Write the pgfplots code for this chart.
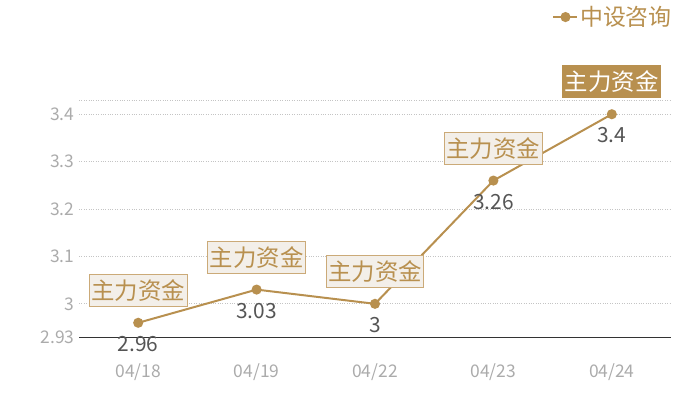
\documentclass[border=0pt]{standalone}
\usepackage{pgfplots}
\pgfplotsset{compat=1.18}
\usepackage{fontspec}
\setmainfont{Noto Sans CJK SC}
\definecolor{gold}{HTML}{B8904F}
\definecolor{boxfill}{HTML}{F3EFE9}
\definecolor{boxline}{HTML}{CBAA78}
\definecolor{ticktxt}{HTML}{ABABAB}
\definecolor{valtxt}{HTML}{555555}
\definecolor{gridc}{HTML}{C4C4C4}
\pgfplotsset{/pgf/number format/assume math mode=true}
\tikzset{
  tag/.style={draw=boxline, fill=boxfill, text=gold, font=\fontsize{23.5}{23.5}\selectfont,
    inner xsep=2bp, inner ysep=5bp, line width=1bp, anchor=south, yshift=16bp},
  tagdark/.style={tag, draw=gold, fill=gold, text=white}
}
\begin{document}
\begin{tikzpicture}[x=1bp,y=1bp]
\useasboundingbox (0,0) rectangle (700,400);
\begin{axis}[
  at={(79bp,63bp)}, anchor=south west,
  scale only axis, width=592bp, height=237bp,
  xmin=-0.5, xmax=4.5, ymin=2.93, ymax=3.43,
  xtick={0,1,2,3,4},
  xticklabels={04/18,04/19,04/22,04/23,04/24},
  ytick={2.93,3,3.1,3.2,3.3,3.4},
  yticklabels={2.93,3,3.1,3.2,3.3,3.4},
  extra y ticks={3.43}, extra y tick labels={},
  extra y tick style={grid=major},
  axis x line*=bottom, axis y line*=left,
  x axis line style={draw=black!80, line width=1bp, -},
  y axis line style={draw=none},
  major tick length=0pt,
  ymajorgrids=true,
  grid style={gridc, dotted, line width=0.8bp},
  ticklabel style={text=ticktxt, font=\fontsize{17.5}{17.5}\selectfont},
  xticklabel style={yshift=-23bp},
  yticklabel style={xshift=-1bp},
  clip=false,
  legend style={draw=none, fill=none, at={(1.01,1.35)}, anchor=east,
    font=\fontsize{23}{23}\selectfont, text=gold, legend cell align=left,
    /tikz/every even column/.append style={column sep=2bp}},
  legend image code/.code={
    \draw[gold, line width=1.2bp] (0bp,0bp) -- (24bp,0bp);
    \fill[gold] (12bp,0bp) circle (4bp);
  },
]
\addplot[gold, line width=2bp, mark=*, mark size=4bp,
  mark options={fill=gold, draw=gold},
  nodes near coords,
  every node near coord/.append style={anchor=north, yshift=-9bp,
    text=valtxt, font=\fontsize{21}{21}\selectfont}]
  coordinates {(0,2.96) (1,3.03) (2,3.00) (3,3.26) (4,3.40)};
\addlegendentry{中设咨询}
\addplot[draw=none, mark=none, forget plot,
  nodes near coords={主力资金},
  every node near coord/.append style={tag}]
  coordinates {(0,2.96) (1,3.03) (2,3.00) (3,3.26)};
\addplot[draw=none, mark=none, forget plot,
  nodes near coords={主力资金},
  every node near coord/.append style={tagdark}]
  coordinates {(4,3.40)};
\end{axis}
\end{tikzpicture}
\end{document}
